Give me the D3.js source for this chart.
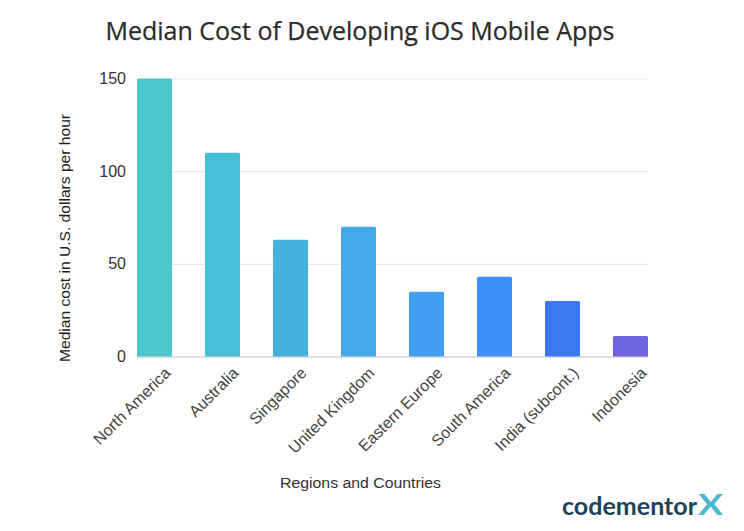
<!DOCTYPE html>
<html><head><meta charset="utf-8">
<script src="https://cdn.jsdelivr.net/npm/d3@7"></script>
<style>html,body{margin:0;background:#fff}svg{display:block}text{font-family:"Liberation Sans",Arial,sans-serif}</style>
</head><body><svg id="c" width="744" height="531"></svg>
<script>
const categories=["North America","Australia","Singapore","United Kingdom","Eastern Europe","South America","India (subcont.)","Indonesia"];
const values=[150,110,63,70,35,43,30,11];
const barColors=["#4cc8cc","#46bfd7","#45b1df","#43a9e8","#429ff3","#3e8ff7","#3c78ee","#7063df"];
const yTicks=[0,50,100,150];
const title="Median Cost of Developing iOS Mobile Apps";
const yTitle="Median cost in U.S. dollars per hour";
const xTitle="Regions and Countries";

const svg=d3.select("#c");
const x=d3.scaleBand().domain(categories).range([137,648]).paddingInner(33/68).paddingOuter(0);
const y=d3.scaleLinear().domain([0,150]).range([356.5,78.5]);

svg.append("text").attr("x",360).attr("y",40).attr("text-anchor","middle").attr("font-size",25).attr("fill","#2b2b2b")
  .attr("stroke","#2b2b2b").attr("stroke-width",0.25)
  .style("font-family","'Open Sans',sans-serif").attr("textLength",509).attr("lengthAdjust","spacingAndGlyphs").text(title);

const gy=svg.append("g").attr("transform","translate(137,0)")
  .call(d3.axisLeft(y).tickValues(yTicks).tickSize(-511).tickPadding(11));
gy.select(".domain").remove();
gy.selectAll("line").attr("stroke",d=>d===0?"#d6d6d6":"#e4e4e4").attr("stroke-width",d=>d===0?1.5:1);
gy.selectAll("text").attr("font-size",16).attr("fill","#333");

svg.append("g").selectAll("path").data(values).join("path")
  .attr("fill",(d,i)=>barColors[i])
  .attr("d",(d,i)=>{
    const x0=x(categories[i]),w=x.bandwidth(),t=y(d),b=y(0),r=1.5;
    return `M${x0},${b}V${t+r}Q${x0},${t} ${x0+r},${t}H${x0+w-r}Q${x0+w},${t} ${x0+w},${t+r}V${b}Z`;
  });

svg.append("g").selectAll("text").data(categories).join("text")
  .attr("text-anchor","end").attr("font-size",16).attr("fill","#444")
  .attr("transform",d=>`translate(${x(d)+x.bandwidth()-0.5},${374}) rotate(-45)`)
  .text(d=>d);

svg.append("text").attr("transform","translate(70,238) rotate(-90)").attr("text-anchor","middle")
  .attr("font-size",15.5).attr("fill","#222").attr("textLength",248).attr("lengthAdjust","spacingAndGlyphs").text(yTitle);
svg.append("text").attr("x",360.5).attr("y",488).attr("text-anchor","middle")
  .attr("font-size",15.5).attr("fill","#333").attr("textLength",161).attr("lengthAdjust","spacingAndGlyphs").text(xTitle);

svg.append("text").attr("x",562).attr("y",515).attr("font-size",25).attr("font-weight",700).attr("fill","#1d4359")
  .attr("textLength",135).attr("lengthAdjust","spacingAndGlyphs").style("font-family","Lato,sans-serif").text("codementor");
svg.append("text").attr("x",698).attr("y",515).attr("font-size",28).attr("font-weight",700).attr("fill","#4bb8cf")
  .attr("textLength",25).attr("lengthAdjust","spacingAndGlyphs").style("font-family","Lato,sans-serif").text("X");
</script></body></html>
